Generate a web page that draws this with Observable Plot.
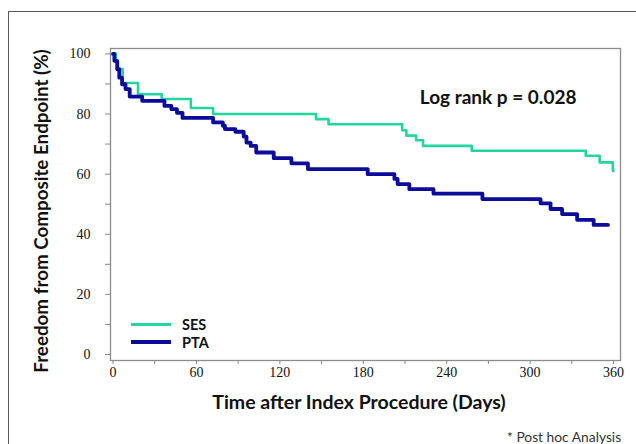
<!DOCTYPE html>
<html>
<head>
<meta charset="utf-8">
<script src="https://cdn.jsdelivr.net/npm/d3@7"></script>
<script src="https://cdn.jsdelivr.net/npm/@observablehq/plot@0.6"></script>
<style>
  html, body { margin: 0; padding: 0; background: #fff; overflow: hidden; }
  #wrap { position: relative; width: 636px; height: 444px; overflow: hidden; font-family: Lato, "Open Sans", sans-serif; }
  #box { position: absolute; left: 8px; top: 11px; width: 700px; height: 500px; border-left: 1px solid #5a5a5a; border-top: 1px solid #5a5a5a; }
  #chart { position: absolute; left: 0; top: 0; }
  .t { position: absolute; white-space: nowrap; color: #111; font-weight: bold; }
  #ytitle { left: 40px; top: 211px; font-size: 18.8px; transform: translate(-50%, -50%) rotate(-90deg); }
  #xtitle { left: 359px; top: 401px; font-size: 19.5px; transform: translate(-50%, -50%); }
  #foot { left: 507px; top: 428px; font-size: 13.8px; font-weight: normal; color: #333; }
  .sw { position: absolute; left: 131px; width: 40px; }
  .lg { position: absolute; left: 182px; font-size: 14.5px; font-weight: bold; color: #111; transform: translateY(-50%); }
</style>
</head>
<body>
<div id="wrap">
  <div id="box"></div>
  <div id="chart"></div>
  <div class="t" id="ytitle">Freedom from Composite Endpoint (%)</div>
  <div class="t" id="xtitle">Time after Index Procedure (Days)</div>
  <div class="t" id="foot">* Post hoc Analysis</div>
  <div id="legend"></div>
</div>
<script>
// ---- data ----
const seriesNames = ["SES", "PTA"];
const seriesColors = ["#22d6a0", "#0b0b9c"];

const sesDays = [0, 2, 3.5, 7, 18, 35, 56, 72, 146, 155, 208, 211, 218, 223, 258, 340, 350, 359.5, 360];
const sesSurv = [100, 97.5, 95, 90.3, 86.6, 85.0, 82.0, 80.0, 78.3, 76.6, 74.6, 72.8, 71.3, 69.4, 67.8, 66.1, 63.9, 61.1, 61.1];

const ptaDays = [0, 1, 3, 4.5, 6.5, 9, 12, 21, 37, 42, 46, 50, 72, 79, 80.5, 88, 94, 96, 99, 103, 115.6, 128.3, 140.2, 183.2, 202.4, 204.7, 213.1, 230.5, 265.7, 307.5, 314.7, 323, 333.8, 345.7, 356];
const ptaSurv = [100, 97.7, 94.9, 92.1, 89.9, 88.3, 85.8, 84.4, 82.7, 81.6, 80.4, 78.7, 77.2, 76.1, 75.0, 74.1, 72.5, 70.5, 69.4, 67.2, 65.3, 63.6, 61.7, 60.0, 58.4, 56.7, 55.0, 53.5, 51.7, 50.3, 48.4, 46.7, 44.8, 43.1, 43.1];

const xTicks = [0, 30, 60, 90, 120, 150, 180, 210, 240, 270, 300, 330, 360];
const xTickLabels = [0, 60, 120, 180, 240, 300, 360];
const yTicks = [0, 10, 20, 30, 40, 50, 60, 70, 80, 90, 100];
const yTickLabels = [0, 20, 40, 60, 80, 100];

const annotation = {text: "Log rank p = 0.028", day: 277, value: 85.5};

// ---- build tables ----
const ses = sesDays.map((d, i) => ({day: d, surv: sesSurv[i]}));
const pta = ptaDays.map((d, i) => ({day: d, surv: ptaSurv[i]}));

const tickFont = "'Liberation Serif', 'DejaVu Serif', serif";

const chart = Plot.plot({
  width: 636,
  height: 444,
  marginLeft: 110,
  marginTop: 48,
  marginRight: 16,
  marginBottom: 84,
  x: {domain: [-1.8, 365]},
  y: {domain: [-2, 101.8]},
  style: {fontFamily: tickFont, color: "#222", background: "transparent", overflow: "visible"},
  marks: [
    Plot.axisY({ticks: yTicks, tickSize: 5, tickPadding: 15, stroke: "#888", fontSize: 14, fill: "#111",
      fontFamily: tickFont, tickFormat: d => yTickLabels.includes(d) ? String(d) : "", label: null}),
    Plot.axisX({ticks: xTicks, tickSize: 4, tickPadding: 3, stroke: "#888", fontSize: 14, fill: "#111",
      fontFamily: tickFont, tickFormat: d => xTickLabels.includes(d) ? String(d) : "", label: null}),
    Plot.frame({stroke: "#8c8c8c", strokeWidth: 1.3}),
    Plot.line(ses, {x: "day", y: "surv", curve: "step-after", stroke: seriesColors[0], strokeWidth: 2.6}),
    Plot.line(pta, {x: "day", y: "surv", curve: "step-after", stroke: seriesColors[1], strokeWidth: 3.8}),
    Plot.text([annotation], {x: "day", y: "value", text: "text", fontFamily: "Lato, 'Open Sans', sans-serif",
      fontWeight: "bold", fontSize: 19, fill: "#111"})
  ]
});
document.getElementById("chart").appendChild(chart);

// ---- legend (HTML, inside frame, lower left) ----
const legend = document.getElementById("legend");
const legendTops = [324, 342];
seriesNames.forEach((name, i) => {
  const sw = document.createElement("div");
  sw.className = "sw";
  const h = i === 0 ? 3 : 4;
  sw.style.top = (legendTops[i] - h / 2) + "px";
  sw.style.height = h + "px";
  sw.style.background = seriesColors[i];
  legend.appendChild(sw);
  const lb = document.createElement("div");
  lb.className = "lg";
  lb.style.top = legendTops[i] + "px";
  lb.textContent = name;
  legend.appendChild(lb);
});
</script>
</body>
</html>
